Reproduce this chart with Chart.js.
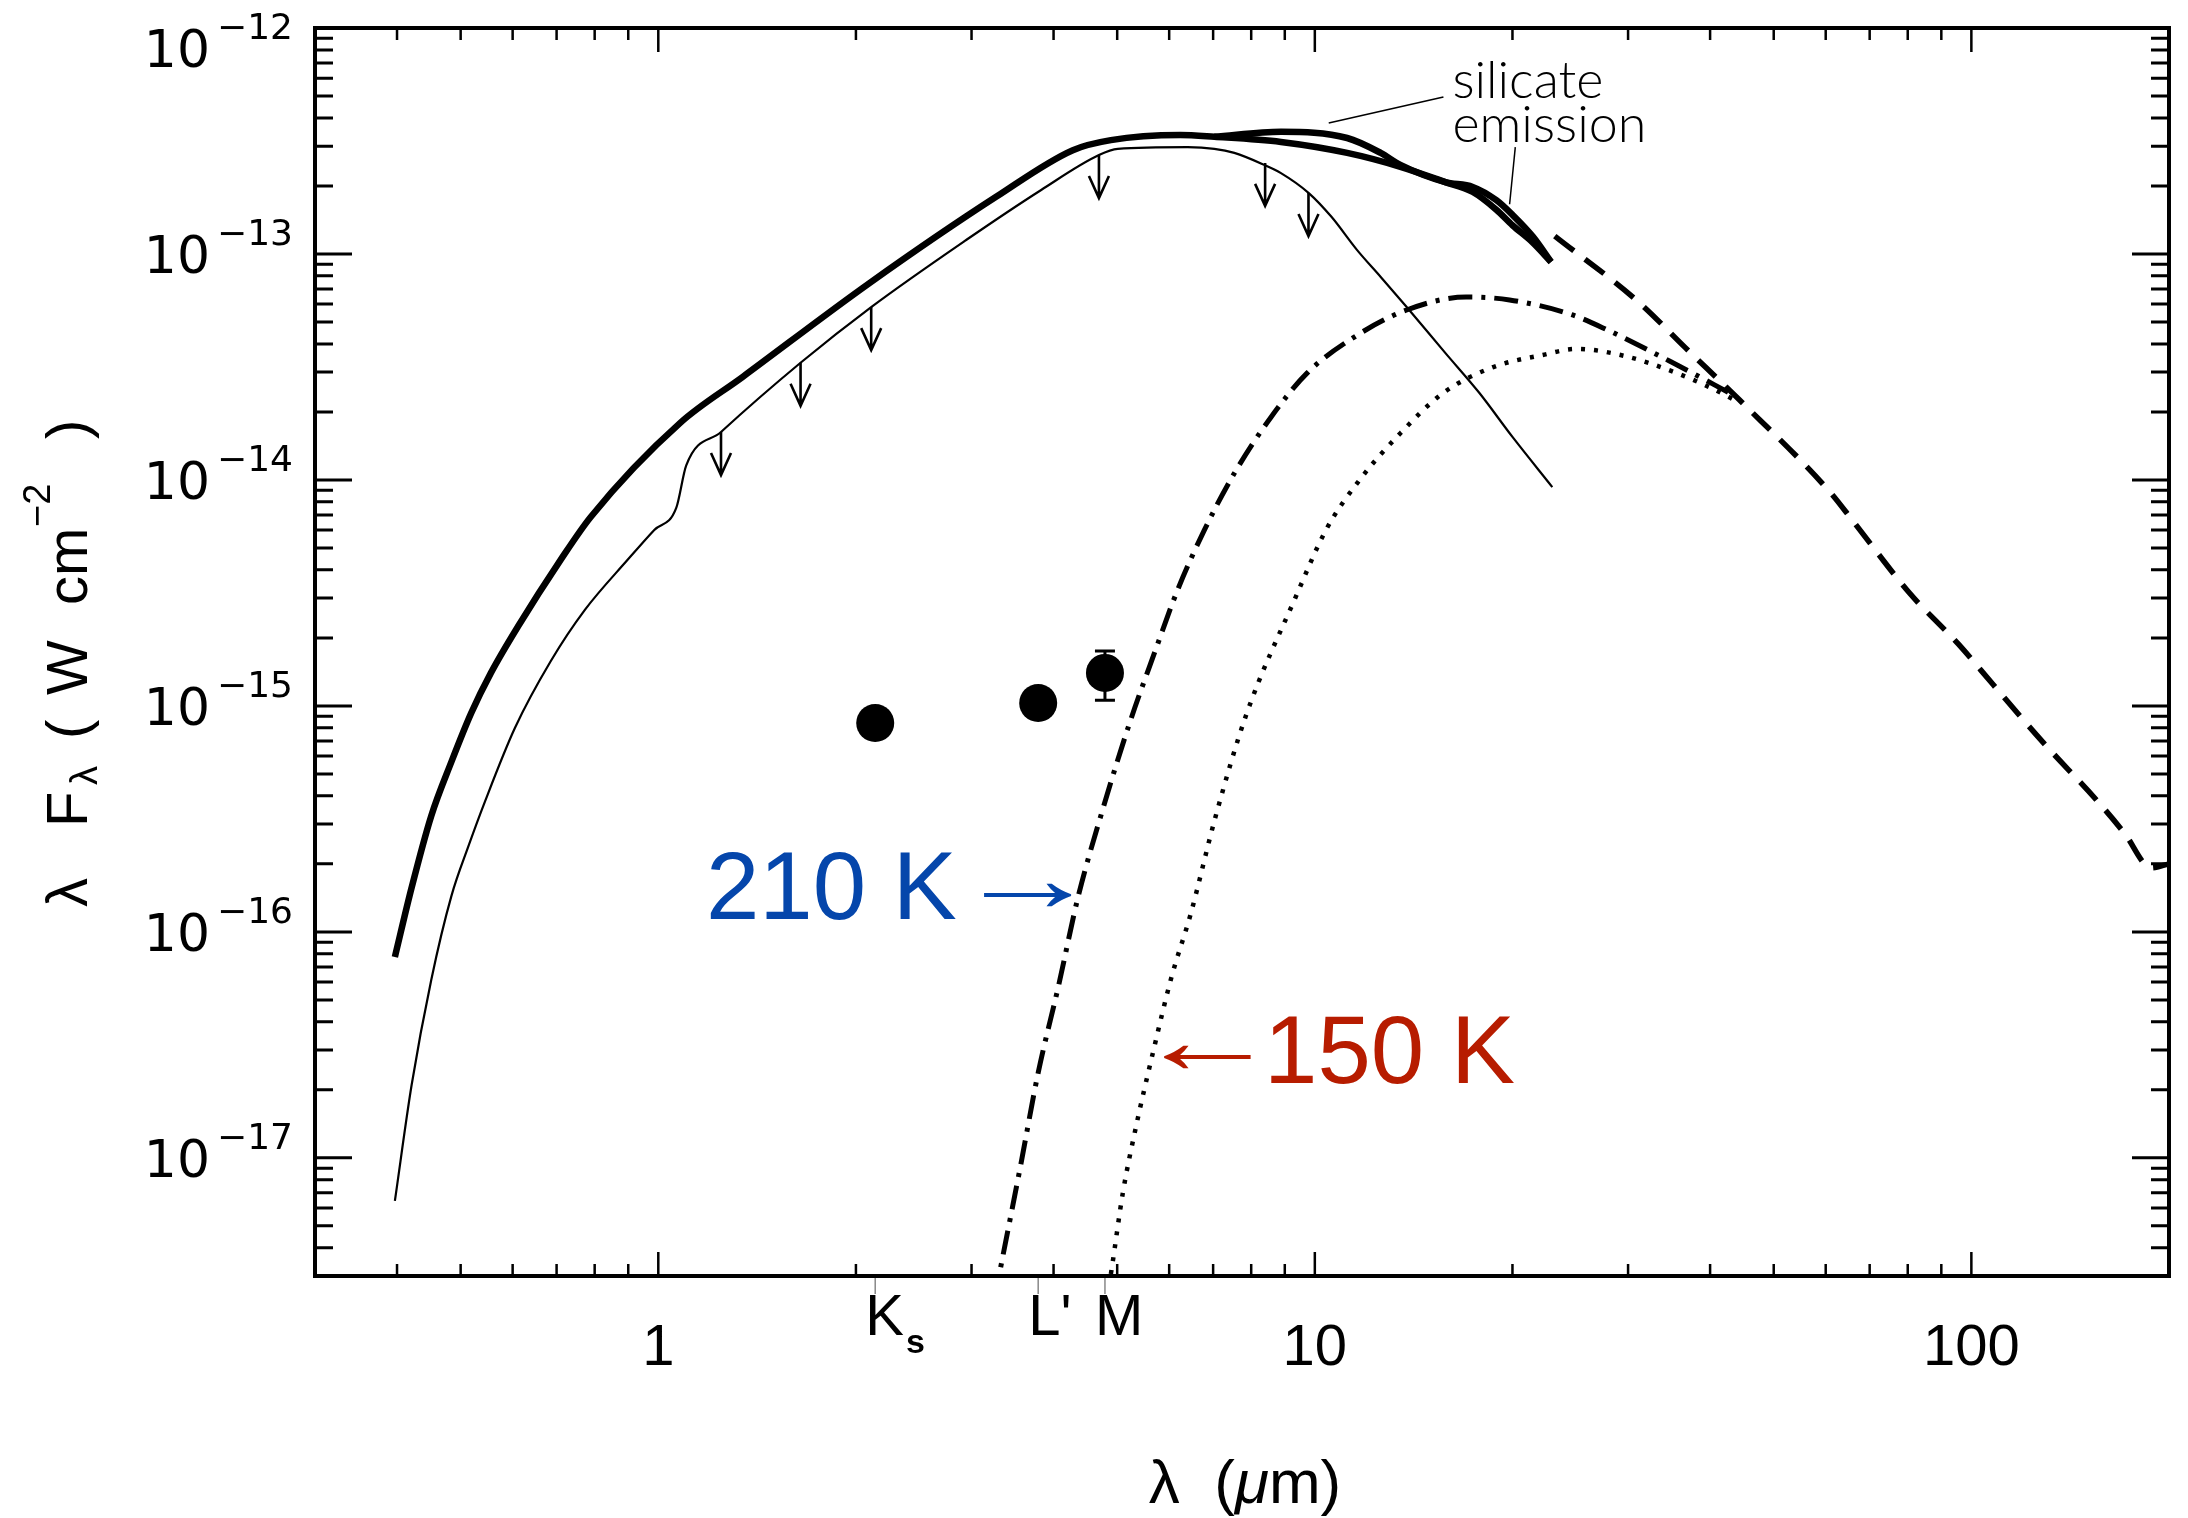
<!DOCTYPE html>
<html>
<head>
<meta charset="utf-8">
<script src="https://cdn.jsdelivr.net/npm/chart.js@4.4.1/dist/chart.umd.min.js"></script>
<style>
  html, body { margin: 0; padding: 0; background: #fff; }
  #sed { display: block; }
</style>
</head>
<body>
<canvas id="sed" width="2188" height="1518"></canvas>
<script>
// wavelength in micron, lambda*F_lambda in W cm^-2
var totalWave = [0.397, 0.421, 0.451, 0.484, 0.519, 0.556, 0.611, 0.710, 0.789, 1.08, 1.345, 2.10, 3.27, 4.28, 4.89, 6.24, 7.03, 8.88, 11.2, 13.5, 15.8, 17.4, 18.9, 20.0, 21.5, 22.9];
var totalFlux = [7.75e-17, 1.57e-16, 3.26e-16, 5.65e-16, 9.31e-16, 1.40e-15, 2.24e-15, 4.43e-15, 6.86e-15, 1.79e-14, 2.86e-14, 7.45e-14, 1.79e-13, 2.88e-13, 3.19e-13, 3.36e-13, 3.30e-13, 3.13e-13, 2.80e-13, 2.43e-13, 2.08e-13, 1.88e-13, 1.57e-13, 1.34e-13, 1.12e-13, 9.22e-14];

var silicateWave = [7.03, 8.88, 11.2, 12.6, 13.5, 15.8, 17.4, 18.9, 20.0, 21.5, 22.9];
var silicateFlux = [3.30e-13, 3.47e-13, 3.26e-13, 2.80e-13, 2.48e-13, 2.08e-13, 1.98e-13, 1.73e-13, 1.49e-13, 1.19e-13, 9.22e-14];

var photWave = [0.397, 0.421, 0.451, 0.484, 0.514, 0.545, 0.605, 0.686, 0.773, 0.898, 0.986, 1.065, 1.103, 1.246, 1.647, 2.11, 2.94, 3.83, 4.69, 5.01, 6.40, 7.03, 7.54, 8.37, 8.88, 9.79, 10.6, 11.6, 12.6, 13.8, 15.8, 17.8, 20.0, 23.0];
var photFlux = [6.45e-18, 2.10e-17, 6.13e-17, 1.44e-16, 2.40e-16, 3.80e-16, 8.0e-16, 1.58e-15, 2.66e-15, 4.43e-15, 6.01e-15, 7.52e-15, 1.16e-14, 1.63e-14, 3.30e-14, 5.82e-14, 1.15e-13, 1.92e-13, 2.74e-13, 2.92e-13, 2.97e-13, 2.92e-13, 2.80e-13, 2.48e-13, 2.28e-13, 1.86e-13, 1.46e-13, 1.04e-13, 7.91e-14, 5.82e-14, 3.65e-14, 2.43e-14, 1.55e-14, 9.3e-15];

var dust210Wave = [3.25, 3.34, 3.56, 3.79, 4.07, 4.36, 4.77, 5.23, 5.70, 6.18, 6.79, 7.54, 8.58, 9.73, 11.5, 13.8, 17.0, 19.8, 24.7, 27.9, 35.1, 43.6];
var dust210Flux = [2.36e-18, 3.54e-18, 9.12e-18, 2.38e-17, 5.77e-17, 1.43e-16, 3.61e-16, 8.5e-16, 1.72e-15, 3.26e-15, 6.01e-15, 1.07e-14, 1.90e-14, 2.97e-14, 4.30e-14, 5.65e-14, 6.45e-14, 6.26e-14, 5.37e-14, 4.61e-14, 3.30e-14, 2.36e-14];

var dust150Wave = [4.82, 4.91, 5.10, 5.34, 5.68, 6.05, 6.47, 7.05, 7.86, 9.35, 10.4, 11.7, 13.5, 15.7, 18.7, 22.2, 25.0, 29.6, 35.6, 40.4, 44.2];
var dust150Flux = [2.36e-18, 3.30e-18, 7.0e-18, 1.37e-17, 3.0e-17, 6.32e-17, 1.20e-16, 3.19e-16, 9.12e-16, 3.03e-15, 6.01e-15, 1.0e-14, 1.61e-14, 2.43e-14, 3.16e-14, 3.57e-14, 3.80e-14, 3.54e-14, 2.97e-14, 2.53e-14, 2.21e-14];

var farIrWave = [23.2, 31.1, 36.7, 44.2, 61.1, 66.0, 80.5, 95.5, 108, 128, 156, 171, 188, 200];
var farIrFlux = [1.20e-13, 6.14e-14, 3.84e-14, 2.28e-14, 8.75e-15, 6.59e-15, 3.16e-15, 1.88e-15, 1.24e-15, 7.0e-16, 3.76e-16, 2.74e-16, 1.92e-16, 2.0e-16];

// photometry
var bandNames = ["K", "L'", "M"];
var bandSub = ["s", "", ""];
var bandWave = [2.14, 3.79, 4.79];
var bandFlux = [8.4e-16, 1.03e-15, 1.40e-15];
var bandErrLow = [null, null, 1.06e-15];
var bandErrHigh = [null, null, 1.75e-15];

// upper limits (top of arrow)
var limitWave = [1.246, 1.647, 2.11, 4.69, 8.4, 9.78];
var limitFlux = [1.63e-14, 3.30e-14, 5.82e-14, 2.74e-13, 2.53e-13, 1.86e-13];

var xTickValues = [1, 10, 100];
var xTickLabels = ["1", "10", "100"];
var yTickExponents = [-17, -16, -15, -14, -13, -12];

// annotations, anchored in data coordinates
var noteText = ["silicate", "emission"];
var noteWave = [16.2, 16.2];
var noteFlux = [4.9e-13, 3.13e-13];
var leaderFrom = [[15.7, 4.95e-13], [20.2, 2.97e-13]];
var leaderTo = [[10.5, 3.8e-13], [19.8, 1.66e-13]];

var tempText = ["210 K", "150 K"];
var tempColor = ["#0546ab", "#b71c00"];
var tempWave = [1.182, 8.37];
var tempFlux = [1.14e-16, 2.15e-17];
var tempArrow = ["\u2192", "\u2190"];
var tempArrowWave = [[3.12, 4.26], [5.87, 8.0]];
var tempArrowFlux = [1.46e-16, 2.80e-17];

function zip(w, f) {
    return w.map(function (v, i) { return { x: v, y: f[i] }; });
}

function curve(w, f, width, dash) {
    return {
        data: zip(w, f),
        showLine: true,
        borderColor: '#000',
        borderWidth: width,
        borderDash: dash || [],
        pointRadius: 0,
        cubicInterpolationMode: 'monotone',
        fill: false
    };
}

var sedPlugin = {
    id: 'sedPlugin',
    afterDatasetsDraw: function (chart) {
        var ctx = chart.ctx;
        var a = chart.chartArea;
        var xs = chart.scales.x, ys = chart.scales.y;
        ctx.save();
        ctx.strokeStyle = '#000';
        ctx.fillStyle = '#000';
        ctx.lineCap = 'butt';

        // error bar
        ctx.lineWidth = 3;
        bandWave.forEach(function (w, i) {
            if (bandErrLow[i] == null) return;
            var x = xs.getPixelForValue(w);
            var y1 = ys.getPixelForValue(bandErrLow[i]);
            var y2 = ys.getPixelForValue(bandErrHigh[i]);
            ctx.beginPath();
            ctx.moveTo(x, y1); ctx.lineTo(x, y2);
            ctx.moveTo(x - 10, y1); ctx.lineTo(x + 10, y1);
            ctx.moveTo(x - 10, y2); ctx.lineTo(x + 10, y2);
            ctx.stroke();
        });

        // upper limit arrows
        ctx.lineWidth = 2.6;
        limitWave.forEach(function (w, i) {
            var x = xs.getPixelForValue(w);
            var y = ys.getPixelForValue(limitFlux[i]);
            var tip = y + 43;
            ctx.beginPath();
            ctx.moveTo(x, y); ctx.lineTo(x, tip);
            ctx.moveTo(x - 10, tip - 22); ctx.lineTo(x, tip); ctx.lineTo(x + 10, tip - 22);
            ctx.stroke();
        });

        // frame
        ctx.lineWidth = 4;
        ctx.strokeRect(a.left, a.top, a.right - a.left, a.bottom - a.top);

        // inward ticks
        function logTicks(min, max) {
            var out = [];
            for (var d = Math.floor(Math.log10(min)); d <= Math.ceil(Math.log10(max)); d++) {
                for (var k = 1; k <= 9; k++) {
                    out.push({ v: k * Math.pow(10, d), major: k === 1 });
                }
            }
            return out;
        }
        ctx.lineWidth = 2.5;
        logTicks(xs.min, xs.max).forEach(function (t) {
            var x = xs.getPixelForValue(t.v);
            if (x < a.left + 3 || x > a.right - 3) return;
            var len = t.major ? 24 : 12;
            ctx.beginPath();
            ctx.moveTo(x, a.bottom); ctx.lineTo(x, a.bottom - len);
            ctx.moveTo(x, a.top); ctx.lineTo(x, a.top + len);
            ctx.stroke();
        });
        ctx.lineWidth = 3;
        logTicks(ys.min, ys.max).forEach(function (t) {
            var y = ys.getPixelForValue(t.v);
            if (y < a.top + 3 || y > a.bottom - 3) return;
            var len = t.major ? 37 : 18;
            ctx.beginPath();
            ctx.moveTo(a.left, y); ctx.lineTo(a.left + len, y);
            ctx.moveTo(a.right, y); ctx.lineTo(a.right - len, y);
            ctx.stroke();
        });

        // band marks under the axis
        ctx.strokeStyle = '#888';
        ctx.lineWidth = 1.5;
        bandWave.forEach(function (w) {
            var x = xs.getPixelForValue(w);
            ctx.beginPath();
            ctx.moveTo(x, a.bottom + 2); ctx.lineTo(x, a.bottom + 18);
            ctx.stroke();
        });

        // leader lines
        ctx.strokeStyle = '#000';
        ctx.lineWidth = 1.5;
        leaderFrom.forEach(function (p, i) {
            ctx.beginPath();
            ctx.moveTo(xs.getPixelForValue(p[0]), ys.getPixelForValue(p[1]));
            ctx.lineTo(xs.getPixelForValue(leaderTo[i][0]), ys.getPixelForValue(leaderTo[i][1]));
            ctx.stroke();
        });
        ctx.restore();
    },
    afterDraw: function (chart) {
        var ctx = chart.ctx;
        var a = chart.chartArea;
        var xs = chart.scales.x, ys = chart.scales.y;
        ctx.save();
        ctx.fillStyle = '#000';
        ctx.textBaseline = 'alphabetic';

        // x tick labels
        ctx.font = '58px "Liberation Sans", Arial, sans-serif';
        ctx.textAlign = 'center';
        xTickValues.forEach(function (v, i) {
            ctx.fillText(xTickLabels[i], xs.getPixelForValue(v), a.bottom + 89);
        });

        // band labels
        ctx.textAlign = 'left';
        bandWave.forEach(function (w, i) {
            var x = xs.getPixelForValue(w) - 10;
            ctx.font = '58px "Liberation Sans", Arial, sans-serif';
            ctx.fillText(bandNames[i], x, a.bottom + 59);
            if (bandSub[i]) {
                var wK = ctx.measureText(bandNames[i]).width;
                ctx.font = 'bold 34px "Liberation Sans", Arial, sans-serif';
                ctx.fillText(bandSub[i], x + wK + 2, a.bottom + 77);
            }
        });

        // y tick labels 10^n
        ctx.textAlign = 'right';
        yTickExponents.forEach(function (e) {
            var y = ys.getPixelForValue(Math.pow(10, e));
            if (y < a.top + 5) y += 20;
            ctx.font = '36px "DejaVu Sans", sans-serif';
            ctx.fillText('\u2212' + String(-e), a.left - 22, y - 9);
            ctx.font = '52px "DejaVu Sans", sans-serif';
            ctx.fillText('10', a.left - 105, y + 19);
        });

        // x title, with an italic mu
        ctx.textAlign = 'left';
        var xt = [['\u03bb  (', '62px'], ['\u03bc', 'italic 62px'], ['m)', '62px']];
        var total = 0;
        xt.forEach(function (p) {
            ctx.font = p[1] + ' "Liberation Sans", Arial, sans-serif';
            p.push(ctx.measureText(p[0]).width);
            total += p[2];
        });
        var xx = 1245 - total / 2;
        xt.forEach(function (p) {
            ctx.font = p[1] + ' "Liberation Sans", Arial, sans-serif';
            ctx.fillText(p[0], xx, 1503);
            xx += p[2];
        });

        // y title, rotated
        ctx.save();
        ctx.translate(87, 907);
        ctx.rotate(-Math.PI / 2);
        ctx.textAlign = 'left';
        var big = '58px "Liberation Sans", Arial, sans-serif';
        var small = '38px "Liberation Sans", Arial, sans-serif';
        var parts = [
            ['\u03bb', 0, 0, big], ['F', 80, 0, big], ['\u03bb', 122, 10, small],
            ['(', 168, 0, big], ['W', 212, 0, big], ['cm', 302, 0, big],
            ['\u22122', 380, -37, small], [')', 468, 0, big]
        ];
        parts.forEach(function (p) {
            ctx.font = p[3];
            ctx.fillText(p[0], p[1], p[2]);
        });
        ctx.restore();

        // silicate emission note
        ctx.textAlign = 'left';
        ctx.font = '300 52px Lato, "DejaVu Sans", sans-serif';
        noteText.forEach(function (t, i) {
            ctx.fillText(t, xs.getPixelForValue(noteWave[i]), ys.getPixelForValue(noteFlux[i]));
        });

        // temperature labels with arrows
        tempText.forEach(function (t, i) {
            ctx.fillStyle = tempColor[i];
            ctx.font = '96px "Liberation Sans", Arial, sans-serif';
            ctx.textAlign = 'left';
            ctx.fillText(t, xs.getPixelForValue(tempWave[i]), ys.getPixelForValue(tempFlux[i]));
            var x0 = xs.getPixelForValue(tempArrowWave[i][0]);
            var x1 = xs.getPixelForValue(tempArrowWave[i][1]);
            var yc = ys.getPixelForValue(tempArrowFlux[i]);
            var m = ctx.measureText(tempArrow[i]);
            var w = m.actualBoundingBoxRight + m.actualBoundingBoxLeft;
            var mid = (m.actualBoundingBoxAscent - m.actualBoundingBoxDescent) / 2;
            ctx.save();
            ctx.translate(x0, yc + mid);
            ctx.scale((x1 - x0) / w, 1);
            ctx.fillText(tempArrow[i], m.actualBoundingBoxLeft, 0);
            ctx.restore();
        });
        ctx.restore();
    }
};

var ctx = document.getElementById('sed').getContext('2d');
var sedChart = new Chart(ctx, {
    type: 'scatter',
    data: {
        datasets: [
            curve(totalWave, totalFlux, 6.5),
            curve(silicateWave, silicateFlux, 6.5),
            curve(photWave, photFlux, 2.2),
            curve(dust210Wave, dust210Flux, 5, [24, 9, 4, 9]),
            curve(dust150Wave, dust150Flux, 4.5, [4, 9]),
            curve(farIrWave, farIrFlux, 5.5, [24, 14]),
            {
                data: zip(bandWave, bandFlux),
                showLine: false,
                pointRadius: 19,
                pointBackgroundColor: '#000',
                pointBorderWidth: 0
            }
        ]
    },
    options: {
        responsive: false,
        animation: false,
        devicePixelRatio: 1,
        events: [],
        layout: { padding: { left: 315, right: 7, top: 28, bottom: 242 } },
        plugins: { legend: { display: false }, tooltip: { enabled: false } },
        scales: {
            x: { type: 'logarithmic', min: 0.3, max: 200, display: false },
            y: { type: 'logarithmic', min: 3e-18, max: 1e-12, display: false }
        }
    },
    plugins: [sedPlugin]
});
</script>
</body>
</html>
